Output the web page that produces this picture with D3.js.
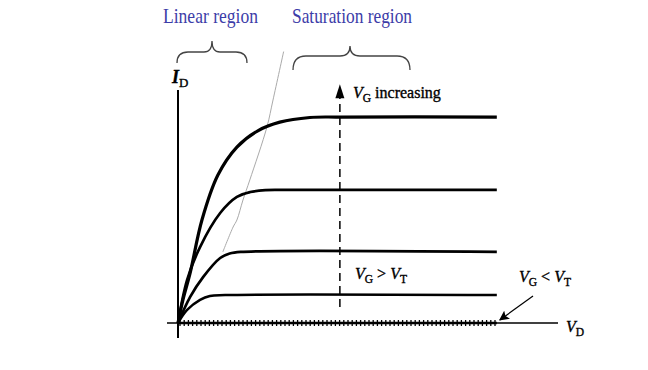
<!DOCTYPE html>
<html>
<head>
<meta charset="utf-8">
<script src="https://cdn.jsdelivr.net/npm/d3@7/dist/d3.min.js"></script>
<style>
  body { margin:0; background:#fff; }
  text { font-family:"Liberation Serif","Times New Roman",serif; }
</style>
</head>
<body>
<div id="chart"></div>
<script>
// drain current curves, [VD, ID] (arbitrary units)
const curveHigh = [[0,0],[0.13,0.99],[0.32,2.15],[0.63,4.42],[1.05,6.35],[1.55,7.55],[2.10,8.25],[2.68,8.62],[3.47,8.82],[4.26,8.84],[8.39,8.84]];
const curveMid2 = [[0,0],[0.24,1.85],[0.58,3.26],[1.11,4.72],[1.55,5.41],[1.90,5.62],[2.30,5.70],[2.80,5.71],[8.39,5.71]];
const curveMid1 = [[0,0],[0.32,1.12],[0.66,1.97],[1.11,2.79],[1.36,2.98],[1.65,3.05],[8.39,3.05]];
const curveLow  = [[0,0],[0.24,0.56],[0.58,0.99],[0.84,1.16],[1.24,1.20],[8.39,1.20]];
const curves = [curveHigh, curveMid2, curveMid1, curveLow];
const curveWidths = [3.2, 2.7, 2.7, 2.5];
// saturation boundary (gray)
const satEdge = [[1.18,3.05],[1.45,4.12],[1.55,4.42],[1.71,5.28],[1.89,6.14],[2.34,8.41],[2.50,9.57],[2.78,11.65]];
// VG < VT curve (ID = 0)
const offCurve = [[0,0],[8.39,0]];
const arrowVD = 4.26, arrowFrom = 0.69, arrowTo = 10.2;

const W = 648, H = 370;
const svg = d3.select("#chart").append("svg").attr("width",W).attr("height",H);
svg.append("rect").attr("width",W).attr("height",H).attr("fill","#fff");

const x = d3.scaleLinear().domain([0,10]).range([178,558]);
const y = d3.scaleLinear().domain([0,10]).range([323,90]);

svg.append("defs").append("marker").attr("id","head")
  .attr("viewBox","0 0 10 10").attr("refX",9).attr("refY",5)
  .attr("markerWidth",10).attr("markerHeight",10).attr("markerUnits","userSpaceOnUse")
  .attr("orient","auto")
  .append("path").attr("d","M0,0 L10,5 L0,10 L2,5 Z").attr("fill","#000");

// axes
svg.append("line").attr("x1",x(0)).attr("x2",x(0)).attr("y1",y(10)).attr("y2",338)
  .attr("stroke","#000").attr("stroke-width",2);
svg.append("line").attr("x1",167).attr("x2",x(10)).attr("y1",y(0)).attr("y2",y(0))
  .attr("stroke","#000").attr("stroke-width",1.5);

// hatched off-state line
svg.append("line").attr("x1",x(offCurve[0][0])).attr("x2",x(offCurve[1][0]))
  .attr("y1",y(0)).attr("y2",y(0)).attr("stroke","#000").attr("stroke-width",2.5);
const hatch = d3.range(x(offCurve[0][0])+2, x(offCurve[1][0]), 4.2);
svg.append("g").selectAll("line").data(hatch).join("line")
  .attr("x1",d=>d).attr("x2",d=>d).attr("y1",y(0)-3).attr("y2",y(0)+3)
  .attr("stroke","#000").attr("stroke-width",1.3);

// saturation boundary
const smooth = d3.curveCatmullRom.alpha(0.5);
const line = d3.line().x(d=>x(d[0])).y(d=>y(d[1])).curve(smooth);
svg.append("path").attr("d",line(satEdge))
  .attr("fill","none").attr("stroke","#aaa").attr("stroke-width",1);

// curves
svg.append("g").selectAll("path").data(curves).join("path")
  .attr("d",line).attr("fill","none").attr("stroke","#000")
  .attr("stroke-width",(d,i)=>curveWidths[i]).attr("stroke-linejoin","round");

// dashed VG increasing arrow
svg.append("line").attr("x1",x(arrowVD)).attr("x2",x(arrowVD))
  .attr("y1",y(arrowFrom)).attr("y2",y(arrowTo)+12)
  .attr("stroke","#000").attr("stroke-width",1.5).attr("stroke-dasharray","8,5");
svg.append("path")
  .attr("d",`M${x(arrowVD)},${y(arrowTo)-1} L${x(arrowVD)-4.5},${y(arrowTo)+13} L${x(arrowVD)+4.5},${y(arrowTo)+13} Z`)
  .attr("fill","#000");

// small arrow to VG<VT line
svg.append("line").attr("x1",533).attr("y1",296).attr("x2",x(offCurve[1][0])+3).attr("y2",y(0)-3)
  .attr("stroke","#000").attr("stroke-width",1.2).attr("marker-end","url(#head)");

// braces
const brace = "#444";
svg.append("path").attr("d","M177,63 Q177,52 188,52 L204,52 Q212,52 212,41 Q212,52 220,52 L236,52 Q247,52 247,63")
  .attr("fill","none").attr("stroke",brace).attr("stroke-width",1.3);
svg.append("path").attr("d","M293,70 Q293,56 306,56 L340,56 Q350,56 350,46 Q350,56 360,56 L397,56 Q410,56 410,70")
  .attr("fill","none").attr("stroke",brace).attr("stroke-width",1.3);

// region labels
svg.append("text").attr("x",163).attr("y",23).attr("font-size",22).attr("fill","#3c3ca8")
  .attr("textLength",95).attr("lengthAdjust","spacingAndGlyphs").text("Linear region");
svg.append("text").attr("x",292).attr("y",23).attr("font-size",22).attr("fill","#3c3ca8")
  .attr("textLength",120).attr("lengthAdjust","spacingAndGlyphs").text("Saturation region");

// math labels
function vlabel(px, py, parts, size) {
  const t = svg.append("text").attr("x",px).attr("y",py).attr("font-size",size).attr("fill","#000")
    .attr("stroke","#000").attr("stroke-width",0.35);
  parts.forEach(p=>{
    const s = t.append("tspan").text(p.t);
    if (p.i) s.attr("font-style","italic");
    if (p.b) s.attr("font-weight","bold");
    if (p.sub) s.attr("font-size",size*0.72).attr("dy",4);
    if (p.up) s.attr("dy",-4);
  });
  return t;
}
vlabel(172,83,[{t:"I",i:1,b:1},{t:"D",sub:1}],18);
vlabel(353,98,[{t:"V",i:1},{t:"G",sub:1},{t:" increasing",up:1}],16);
vlabel(355,279,[{t:"V",i:1},{t:"G",sub:1},{t:" > ",up:1},{t:"V",i:1},{t:"T",sub:1}],16);
vlabel(519,282,[{t:"V",i:1},{t:"G",sub:1},{t:" < ",up:1},{t:"V",i:1},{t:"T",sub:1}],16);
vlabel(566,332,[{t:"V",i:1},{t:"D",sub:1}],16);
</script>
</body>
</html>
